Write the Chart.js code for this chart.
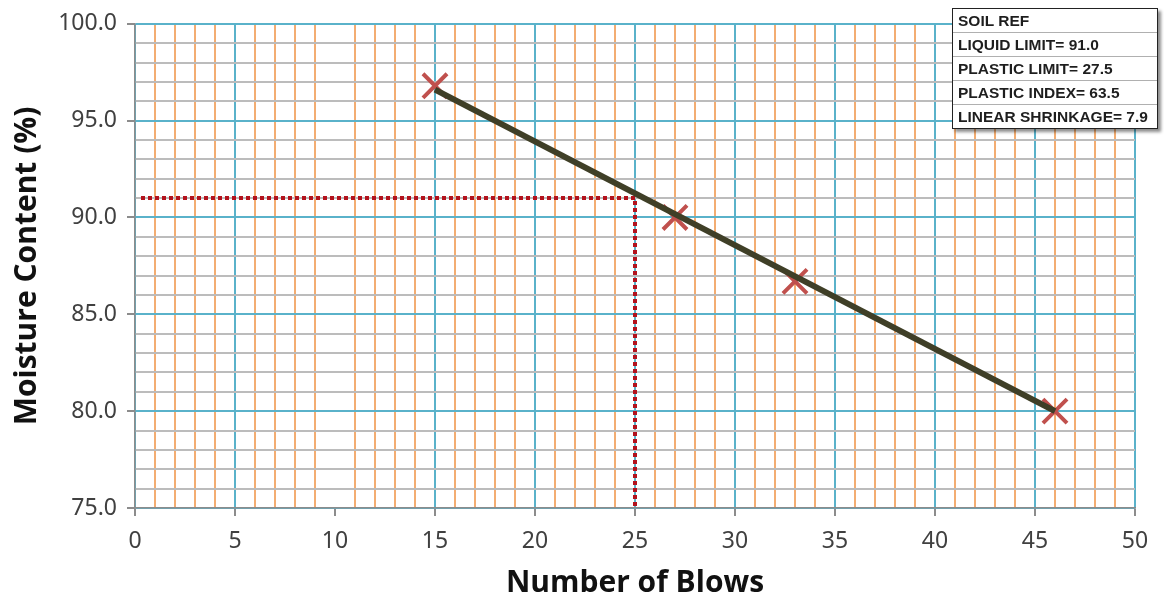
<!DOCTYPE html>
<html>
<head>
<meta charset="utf-8">
<script src="https://cdn.jsdelivr.net/npm/chart.js@4"></script>
<style>
  html, body { margin: 0; padding: 0; background: #fff; }
  #wrap { position: relative; width: 1164px; height: 601px; }
  #soil {
    position: absolute; left: 952px; top: 8px; width: 204px;
    border: 1px solid #222; background: #fff;
    box-shadow: 3px 3px 3px rgba(0,0,0,0.45);
    font-family: "Liberation Sans Narrow", "Liberation Sans", Arial, sans-serif;
    font-weight: bold; font-size: 15.5px; color: #1e1e1e;
  }
  #soil div { height: 23px; line-height: 23px; padding-left: 5px; border-top: 1px solid #b0b0b0; white-space: nowrap; }
  #soil div:first-child { border-top: none; }
</style>
</head>
<body>
<div id="wrap">
  <canvas id="chart" width="1164" height="601"></canvas>
  <div id="soil"></div>
</div>
<script>
// test points
const blows = [15, 27, 33, 46];
const moisture = [96.8, 90.0, 86.7, 80.0];

// fitted line
const trendBlows = [15, 46];
const trendMoisture = [96.6, 80.0];

// liquid limit read-off at 25 blows
const limitBlows = [0.3, 25, 25];
const limitMoisture = [91.0, 91.0, 75.0];

const soilRef = [
    'SOIL REF',
    'LIQUID LIMIT= 91.0',
    'PLASTIC LIMIT= 27.5',
    'PLASTIC INDEX= 63.5',
    'LINEAR SHRINKAGE= 7.9'
];

const X_MIN = 0, X_MAX = 50;
const Y_MIN = 75, Y_MAX = 100;

const TEAL = '#5ab2ca';
const ORANGE = '#f3ad72';
const GREY = '#bcbcbc';
const AXIS = '#8c8c8c';
const NONE = 'rgba(0,0,0,0)';

function toPoints(xs, ys) {
    return xs.map((x, i) => ({x: x, y: ys[i]}));
}

// per-tick styles (ticks run min..max in steps of 1)
const xGrid = [], xTickMarks = [];
for (let v = X_MIN; v <= X_MAX; v++) {
    xGrid.push(v === 10 ? NONE : (v % 5 === 0 ? TEAL : ORANGE));
    xTickMarks.push(v % 5 === 0 ? AXIS : NONE);
}
const yGrid = [], yTickMarks = [];
for (let v = Y_MIN; v <= Y_MAX; v++) {
    yGrid.push(v % 5 === 0 ? TEAL : GREY);
    yTickMarks.push(v % 5 === 0 ? AXIS : NONE);
}

document.getElementById('soil').innerHTML = soilRef.map(t => '<div>' + t + '</div>').join('');

const tickFont = {family: 'Noto Sans, Open Sans, sans-serif', size: 23};
const titleFont = {family: 'Open Sans, Noto Sans, sans-serif', size: 30, weight: 'bold'};

const config = {
    type: 'scatter',
    data: {
        datasets: [
            {
                label: 'Trend',
                data: toPoints(trendBlows, trendMoisture),
                showLine: true,
                borderColor: '#3f3f27',
                borderWidth: 6,
                pointRadius: 0,
                order: 0
            },
            {
                label: 'Tests',
                data: toPoints(blows, moisture),
                pointStyle: 'crossRot',
                pointRadius: 17,
                pointBorderWidth: 4,
                borderColor: '#c0504d',
                backgroundColor: '#c0504d',
                order: 1
            },
            {
                label: 'Liquid limit',
                data: toPoints(limitBlows, limitMoisture),
                showLine: true,
                borderColor: '#b3121c',
                borderWidth: 4,
                borderDash: [4, 3],
                pointRadius: 0,
                order: 2
            }
        ]
    },
    options: {
        responsive: false,
        animation: false,
        layout: {padding: {top: 23, right: 29, left: 0, bottom: 0}},
        plugins: {
            legend: {display: false},
            tooltip: {enabled: false}
        },
        scales: {
            x: {
                type: 'linear',
                min: X_MIN,
                max: X_MAX,
                afterFit: s => { s.height = 93; },
                border: {color: AXIS, width: 1.5},
                grid: {
                    color: xGrid,
                    tickColor: xTickMarks,
                    tickLength: 8,
                    lineWidth: 2
                },
                ticks: {
                    stepSize: 1,
                    autoSkip: false,
                    maxRotation: 0,
                    padding: 12,
                    color: '#404040',
                    font: tickFont,
                    callback: v => v % 5 === 0 ? String(v) : ''
                },
                title: {
                    display: true,
                    text: 'Number of Blows',
                    color: '#111',
                    font: titleFont,
                    padding: {top: 0, bottom: 0}
                }
            },
            y: {
                min: Y_MIN,
                max: Y_MAX,
                afterFit: s => { s.width = 135; },
                border: {color: AXIS, width: 1.5},
                grid: {
                    color: yGrid,
                    tickColor: yTickMarks,
                    tickLength: 8,
                    lineWidth: 2
                },
                ticks: {
                    stepSize: 1,
                    autoSkip: false,
                    padding: 10,
                    color: '#404040',
                    font: tickFont,
                    callback: v => v % 5 === 0 ? v.toFixed(1) : ''
                },
                title: {
                    display: true,
                    text: 'Moisture Content (%)',
                    color: '#111',
                    font: titleFont,
                    padding: {top: 9, bottom: 0}
                }
            }
        }
    }
};

new Chart(document.getElementById('chart').getContext('2d'), config);
</script>
</body>
</html>
